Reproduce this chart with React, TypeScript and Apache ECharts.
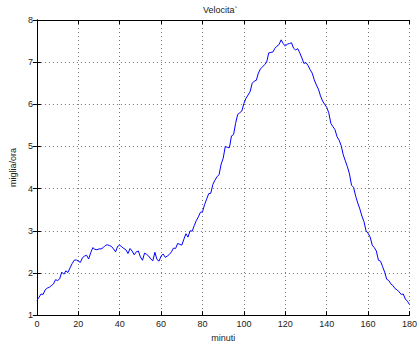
import React, { useEffect, useRef } from "react";
import * as echarts from "echarts";

const minutes: number[] = Array.from({ length: 181 }, (_, i) => i);
const speed: number[] = [
  1.35, 1.42, 1.5, 1.49, 1.6, 1.64, 1.66, 1.7, 1.74, 1.84,
  1.82, 1.86, 2.02, 1.97, 2.05, 2.01, 2.12, 2.22, 2.3, 2.31,
  2.28, 2.25, 2.36, 2.4, 2.42, 2.33, 2.48, 2.6, 2.56, 2.55,
  2.57, 2.57, 2.6, 2.65, 2.67, 2.65, 2.63, 2.57, 2.5, 2.63,
  2.66, 2.62, 2.58, 2.55, 2.46, 2.58, 2.52, 2.43, 2.5, 2.52,
  2.38, 2.3, 2.47, 2.44, 2.4, 2.33, 2.29, 2.49, 2.32, 2.28,
  2.4, 2.45, 2.37, 2.4, 2.44, 2.5, 2.59, 2.58, 2.7, 2.68,
  2.66, 2.8, 2.93, 2.85, 3.0, 2.99, 3.12, 3.24, 3.33, 3.44,
  3.45, 3.62, 3.75, 3.88, 3.89, 4.1, 4.2, 4.28, 4.33, 4.58,
  4.72, 5.0, 4.98, 4.97, 5.25, 5.28, 5.55, 5.76, 5.8, 5.84,
  6.02, 6.14, 6.22, 6.3, 6.5, 6.55, 6.57, 6.74, 6.84, 6.89,
  6.94, 7.0, 7.22, 7.23, 7.24, 7.33, 7.38, 7.42, 7.53, 7.44,
  7.38, 7.43, 7.44, 7.46, 7.33, 7.29, 7.32, 7.22, 7.1, 6.97,
  6.99, 6.92, 6.82, 6.74, 6.58, 6.46, 6.36, 6.2, 6.08, 6.0,
  5.93, 5.8, 5.55, 5.47, 5.4, 5.23, 5.15, 5.02, 4.8, 4.66,
  4.52, 4.35, 4.08, 4.03, 3.82, 3.66, 3.52, 3.35, 3.22, 3.0,
  2.94, 2.85, 2.66, 2.6, 2.52, 2.3, 2.28, 2.15, 2.02, 1.85,
  1.82, 1.74, 1.7, 1.63, 1.6, 1.55, 1.49, 1.5, 1.38, 1.33,
  1.25,
];

const titleText = "Velocita`";
const xName = "minuti";
const yName = "miglia/ora";

export default function App() {
  const ref = useRef<HTMLDivElement>(null);
  useEffect(() => {
    if (!ref.current) return;
    const chart = echarts.init(ref.current, undefined, { renderer: "svg" });
    const font = "Liberation Sans, Arial, sans-serif";
    const gridLine = { show: true, lineStyle: { color: "#777", type: [1, 3] as any, width: 1 } };
    const axisLine = { show: true, lineStyle: { color: "#000", width: 1 } };
    const tick = { show: true, inside: true, length: 4, lineStyle: { color: "#000" } };
    const label = { color: "#222", fontSize: 9, fontFamily: font };
    chart.setOption({
      animation: false,
      backgroundColor: "#fff",
      grid: { left: 27, right: 6, top: 20, bottom: 22, containLabel: false },
      graphic: [
        {
          type: "text",
          left: 203,
          top: 5,
          style: { text: titleText, fontSize: 9, fontFamily: font, fill: "#222" },
        },
      ],
      xAxis: [
        {
          type: "value",
          min: 0,
          max: 180,
          interval: 20,
          position: "bottom",
          axisLine,
          axisTick: tick,
          axisLabel: { ...label, margin: 4 },
          splitLine: gridLine,
          name: xName,
          nameLocation: "middle",
          nameGap: 15,
          nameTextStyle: { color: "#222", fontSize: 9, fontFamily: font },
        },
        {
          type: "value",
          min: 0,
          max: 180,
          interval: 20,
          position: "top",
          axisLine,
          axisTick: tick,
          axisLabel: { show: false },
          splitLine: { show: false },
        },
      ],
      yAxis: [
        {
          type: "value",
          min: 1,
          max: 8,
          interval: 1,
          position: "left",
          axisLine,
          axisTick: tick,
          axisLabel: { ...label, margin: 4 },
          splitLine: gridLine,
          name: yName,
          nameLocation: "middle",
          nameGap: 14,
          nameTextStyle: { color: "#222", fontSize: 9, fontFamily: font },
        },
        {
          type: "value",
          min: 1,
          max: 8,
          interval: 1,
          position: "right",
          axisLine,
          axisTick: tick,
          axisLabel: { show: false },
          splitLine: { show: false },
        },
      ],
      series: [
        {
          type: "line",
          data: minutes.map((m, i) => [m, speed[i]]),
          showSymbol: false,
          symbol: "none",
          lineStyle: { color: "#0000ff", width: 1 },
          xAxisIndex: 0,
          yAxisIndex: 0,
        },
      ],
    });
    return () => chart.dispose();
  }, []);
  return (
    <div
      ref={ref}
      style={{ position: "fixed", left: 0, top: 0, width: 420, height: 347, background: "#fff" }}
    />
  );
}
